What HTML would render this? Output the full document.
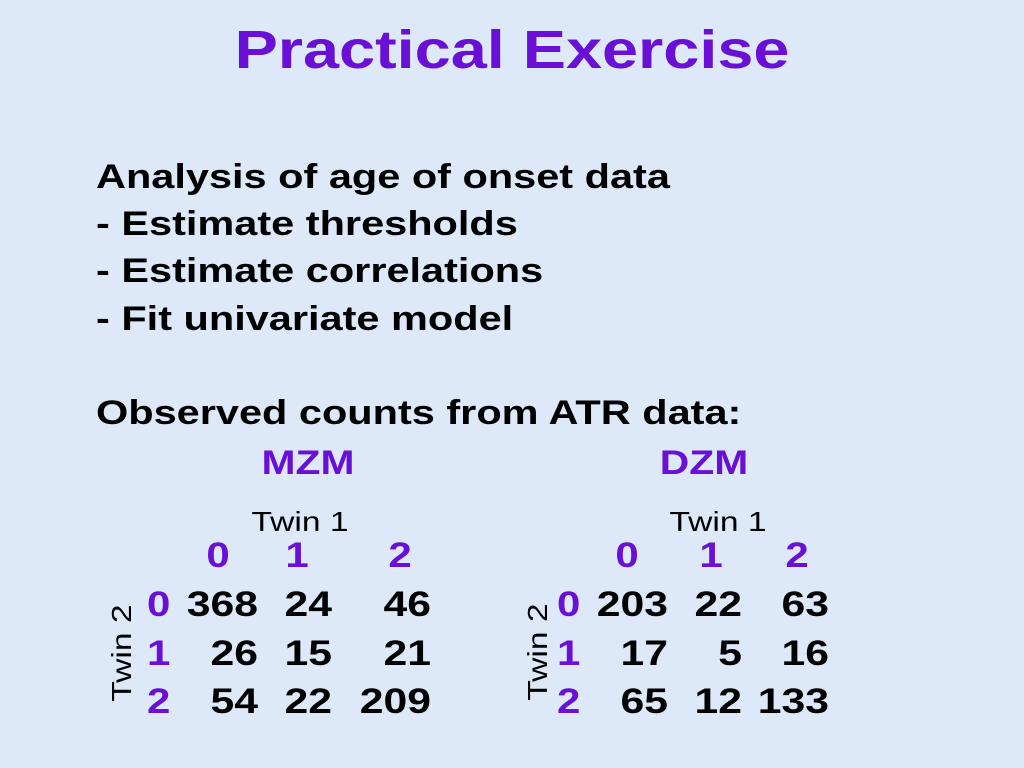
<!DOCTYPE html>
<html><head><meta charset="utf-8"><style>
body{margin:0;width:1024px;height:768px;background:#dde9f9;font-family:"Liberation Sans",sans-serif;position:relative;overflow:hidden}
.a{position:absolute;white-space:nowrap;font-weight:bold}
.p{color:#6a0fd6}
.t{font-size:34px;line-height:34px;color:#000;transform:scaleX(1.22);transform-origin:left center}
.n{font-size:35px;line-height:36px;color:#000;text-align:right;width:80px;transform:scaleX(1.22);transform-origin:right center}
.c{text-align:center;width:80px;transform:scaleX(1.2)}
.w{font-weight:normal}
</style></head><body>
<div class="a p" style="left:0;width:1024px;text-align:center;top:20px;font-size:54px;line-height:60px;transform:scaleX(1.2)">Practical Exercise</div>
<div class="a t" style="left:96px;top:160px">Analysis of age of onset data</div>
<div class="a t" style="left:96px;top:207px">- Estimate thresholds</div>
<div class="a t" style="left:96px;top:254px">- Estimate correlations</div>
<div class="a t" style="left:96px;top:302px">- Fit univariate model</div>
<div class="a t" style="left:96px;top:396px">Observed counts from ATR data:</div>
<div class="a p c" style="left:248px;width:120px;top:445px;font-size:34px;line-height:36px">MZM</div>
<div class="a p c" style="left:644px;width:120px;top:445px;font-size:34px;line-height:36px">DZM</div>
<div class="a c w" style="left:240px;width:120px;top:506px;font-size:28px;transform:scaleX(1.2)">Twin 1</div>
<div class="a c w" style="left:658px;width:120px;top:506px;font-size:28px;transform:scaleX(1.2)">Twin 1</div>
<div class="a w" style="left:122px;top:653px;font-size:28px;transform:translate(-50%,-50%) rotate(-90deg) scaleX(1.2)">Twin 2</div>
<div class="a w" style="left:538px;top:652px;font-size:28px;transform:translate(-50%,-50%) rotate(-90deg) scaleX(1.2)">Twin 2</div>
<script>
const colHeads=['0','1','2'];
const mzm=[[368,24,46],[26,15,21],[54,22,209]];
const dzm=[[203,22,63],[17,5,16],[65,12,133]];
function add(cls,txt,l,t,style,name){const d=document.createElement('div');d.className='a '+cls;d.textContent=txt;d.style.left=l+'px';d.style.top=t+'px';if(style)d.style.cssText+=style;


document.body.appendChild(d);}
const rowsY=[587,636,684];
function table(data,hx,rowX,rights,pre){
 colHeads.forEach((h,i)=>add('p c',h,hx[i]-40,538,'font-size:35px;line-height:36px','col-header-'+pre+'-'+h));
 data.forEach((r,ri)=>{add('p',colHeads[ri],rowX,rowsY[ri],'font-size:35px;line-height:36px;transform:scaleX(1.2);transform-origin:left center','row-header-'+pre+'-'+ri);
  r.forEach((v,ci)=>add('n',String(v),rights[ci]-80,rowsY[ri],'','cell-'+pre+'-'+ri+'-'+ci));});
}
table(mzm,[218,297,400],147,[258,332,431],'mzm');
table(dzm,[627,711,797],557,[668,742,829],'dzm');
</script>
</body></html>
